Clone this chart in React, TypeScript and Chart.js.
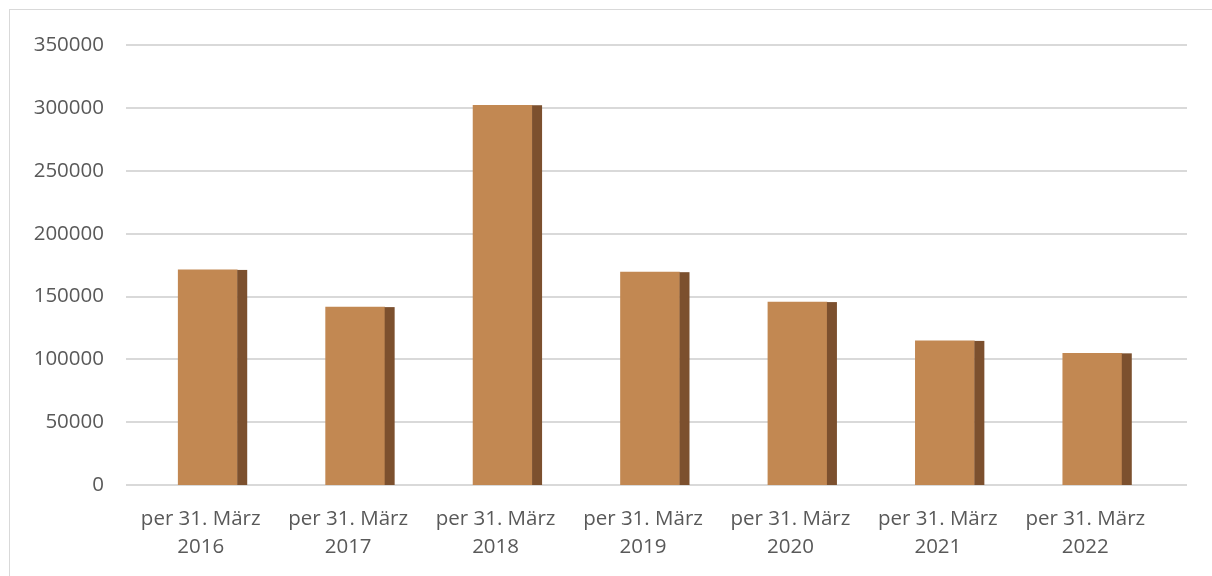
import React, { useEffect, useRef } from "react";
import { Chart, registerables } from "chart.js";

Chart.register(...registerables);

const categoryLines: string[][] = [
  ["per 31. März", "2016"],
  ["per 31. März", "2017"],
  ["per 31. März", "2018"],
  ["per 31. März", "2019"],
  ["per 31. März", "2020"],
  ["per 31. März", "2021"],
  ["per 31. März", "2022"],
];
const values: number[] = [171200, 141600, 302300, 169400, 145600, 114700, 104800];
const yMin = 0;
const yMax = 350000;
const yStep = 50000;

const FRONT = "#C28852";
const SIDE = "#7C502E";
const GRID = "#D9D9D9";
const TEXT = "#595959";

const barPlugin = {
  id: "excel3d",
  beforeDatasetsDraw(chart: any) {
    const { ctx, chartArea, scales } = chart;
    const y = scales.y;
    ctx.save();
    ctx.strokeStyle = GRID;
    ctx.lineWidth = 2;
    y.ticks.forEach((t: any) => {
      const py = Math.round(y.getPixelForValue(t.value));
      ctx.beginPath();
      ctx.moveTo(chartArea.left - 1, py);
      ctx.lineTo(chartArea.right + 28, py);
      ctx.stroke();
    });
    ctx.restore();
    ctx.save();
    ctx.translate(7, 0);
  },
  afterDatasetsDraw(chart: any) {
    const { ctx } = chart;
    const meta = chart.getDatasetMeta(0);
    meta.data.forEach((el: any) => {
      const p = el.getProps(["x", "y", "base", "width"], true);
      ctx.fillStyle = SIDE;
      ctx.fillRect(p.x + p.width / 2, p.y, 10, p.base - p.y);
    });
    ctx.restore();
  },
};

export default function App() {
  const ref = useRef<HTMLCanvasElement>(null);
  useEffect(() => {
    document.documentElement.style.overflow = "hidden";
    document.body.style.overflow = "hidden";
    if (!ref.current) return;
    const chart = new Chart(ref.current, {
      type: "bar",
      data: {
        labels: categoryLines,
        datasets: [
          {
            data: values,
            backgroundColor: FRONT,
            barThickness: 59,
            borderWidth: 0,
          },
        ],
      },
      options: {
        responsive: false,
        animation: false,
        devicePixelRatio: 1,
        layout: { padding: { left: 0, right: 53, top: 35, bottom: 0 } },
        plugins: { legend: { display: false }, tooltip: { enabled: false } },
        scales: {
          x: {
            grid: { display: false, drawTicks: false },
            border: { display: false },
            ticks: {
              color: TEXT,
              font: { family: "'Open Sans'", size: 20.5, lineHeight: 1.37 },
              padding: 20,
              maxRotation: 0,
              autoSkip: false,
            },
            afterFit: (s: any) => {
              s.height = 83;
            },
          },
          y: {
            min: yMin,
            max: yMax,
            grid: { display: false, drawTicks: false },
            border: { display: false },
            ticks: {
              stepSize: yStep,
              color: TEXT,
              font: { family: "'Open Sans'", size: 20.5 },
              padding: 23,
              callback: (v: any) => String(v),
            },
            afterFit: (s: any) => {
              s.width = 117;
            },
          },
        },
      },
      plugins: [barPlugin],
    });
    return () => chart.destroy();
  }, []);
  return (
    <div
      style={{
        position: "absolute",
        left: 9,
        top: 9,
        width: 1240,
        height: 600,
        borderTop: "1px solid #D9D9D9",
        borderLeft: "1px solid #D9D9D9",
        boxSizing: "border-box",
        overflow: "hidden",
      }}
    >
      <canvas ref={ref} width={1202} height={558} style={{ display: "block" }} />
    </div>
  );
}
